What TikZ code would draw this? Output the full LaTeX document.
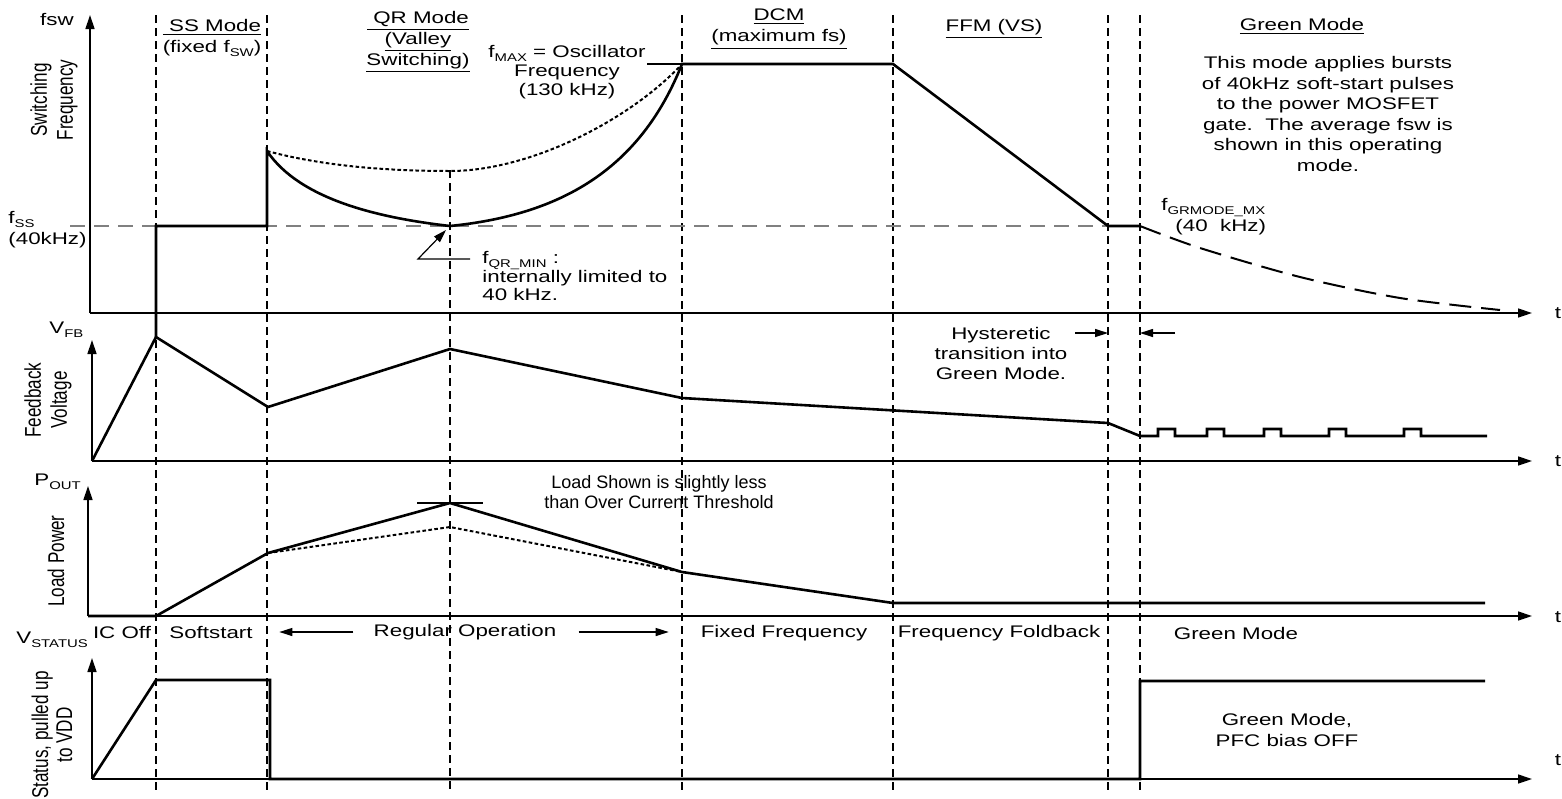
\documentclass[tikz,border=0pt]{standalone}
\usepackage{fontspec}
\setmainfont{Liberation Sans}[FakeStretch=1.33]
\newfontfamily\sidefont{Liberation Sans}[FakeStretch=0.75]
\newfontfamily\plainfont{Liberation Sans}
\usetikzlibrary{arrows.meta}
\newcommand{\subtxt}[1]{\raisebox{-0.45ex}{\fontsize{5.6}{5.6}\selectfont #1}}

\begin{document}
\begin{tikzpicture}[x=0.5pt, y=-0.5pt,
    every node/.style={font=\fontsize{8.4}{10.5}\selectfont, inner sep=0pt},
    axis/.style={-{Triangle[length=7pt,width=4.5pt]}, line width=0.7pt},
    trace/.style={line width=1.3pt},
    modeline/.style={line width=0.8pt, dash pattern=on 4pt off 2.5pt},
    levelline/.style={line width=0.7pt, gray, dash pattern=on 7.5pt off 4.5pt},
    estimate/.style={line width=1pt, dash pattern=on 1.8pt off 1.2pt},
    decay/.style={line width=1pt, dash pattern=on 11pt off 5pt},
    pointer/.style={-{Triangle[length=6.5pt,width=4pt]}, line width=0.6pt},
    sidelabel/.style={font=\sidefont\fontsize{11.4}{13}\selectfont, rotate=90, align=center},
]
\useasboundingbox (0,0) rectangle (1562,798);

% Mode boundaries
\foreach \xm in {156,267,682,893,1108,1140}
    \draw[modeline] (\xm,15) -- (\xm,790);
\draw[modeline] (450,170) -- (450,790);

% Soft-start level
\draw[levelline] (70,226) -- (1108,226);

% Axes
\draw[axis] (90,313) -- (90,15);
\draw[axis] (90,313) -- (1532,313);
\draw[axis] (92,461) -- (92,340);
\draw[axis] (92,461) -- (1532,461);
\draw[axis] (88,616) -- (88,486);
\draw[axis] (88,616) -- (1532,616);
\draw[axis] (92,779) -- (92,658);
\draw[axis] (92,779) -- (1532,779);

% Switching frequency
\draw[trace] (90,313) -- (156,313);
\draw[trace] (156,337) -- (156,226) -- (267,226) -- (267,151)
    .. controls (300,200) and (380,218) .. (450,226)
    .. controls (560,215) and (640,170) .. (682,64)
    -- (893,64) -- (1108,226) -- (1140,226);
\draw[estimate] (267,151) .. controls (330,168) and (400,171) .. (450,171)
    .. controls (530,171) and (630,120) .. (682,64);
\draw[decay] plot[smooth] coordinates {(1140,226) (1200,248) (1300,277) (1400,298) (1500,310)};
\draw[line width=0.6pt] (647,64) -- (682,64);
\draw[pointer] (470,259) -- (418,259) -- (446,230);

\node (fswlbl) at (57,20) {fsw};
\node[sidelabel] (switchlbl) at (54,100) {Switching\\Frequency};
\node[anchor=west, align=left] (fsslbl) at (8,230) {f\subtxt{SS}\\(40kHz)};
\node[align=center] (ssmode) at (212,38) {\underline{\ SS Mode}\\(fixed f\subtxt{SW})};
\node[align=center] (qrmode) at (418,42) {\underline{\ QR Mode}\\\underline{(Valley}\\\underline{Switching)}};
\node[align=center] (dcmmode) at (779,29) {\underline{DCM}\\\underline{(maximum fs)}};
\node (ffmmode) at (994,29) {\underline{FFM (VS)}};
\node (greenmode) at (1302,26) {\underline{Green Mode}};
\node[align=center, font=\fontsize{8.4}{10.3}\selectfont] (greennote) at (1328,114)
    {This mode applies bursts\\of 40kHz soft-start pulses\\to the power MOSFET\\gate.\ \ The average fsw is\\shown in this operating\\mode.};
\node[align=center, font=\fontsize{8.4}{9.5}\selectfont] (fmaxnote) at (567,72)
    {f\subtxt{MAX} = Oscillator\\Frequency\\(130 kHz)};
\node[anchor=west, align=left, font=\fontsize{8.4}{9.2}\selectfont] (fqrnote) at (482,276)
    {f\subtxt{QR\_MIN} :\\internally limited to\\40 kHz.};
\node[anchor=west, align=left] (fgrnote) at (1161,217) {f\subtxt{GRMODE\_MX}\\\hspace{7pt}(40~~kHz)};
\node (tfsw) at (1558,313) {t};

% Feedback voltage
\draw[trace] (92,461) -- (156,337) -- (268,407) -- (450,349) -- (682,398) -- (1108,423) -- (1140,436)
    \foreach \px in {1158,1207,1264,1329,1404} { -- (\px,436) -- (\px,429) -- ++(17,0) -- ++(0,7) } -- (1487,436);
\draw[pointer] (1075,333) -- (1108,333);
\draw[pointer] (1175,333) -- (1140,333);

\node[anchor=west] (vfblbl) at (49,330) {V\subtxt{FB}};
\node[sidelabel] (fblbl) at (48,400) {Feedback\\Voltage};
\node[align=center, font=\fontsize{8.4}{10}\selectfont] (hystnote) at (1001,353) {Hysteretic\\transition into\\Green Mode.};
\node (tvfb) at (1558,461) {t};

% Load power
\draw[trace] (88,616) -- (156,616) -- (268,553) -- (450,503) -- (682,572) -- (893,603) -- (1485,603);
\draw[estimate] (268,553) -- (450,527) -- (682,572);
\draw[line width=0.6pt] (417,503) -- (483,503);

\node[anchor=west] (poutlbl) at (34,482) {P\subtxt{OUT}};
\node[sidelabel] (loadlbl) at (56,561) {Load Power};
\node[align=center, font=\plainfont\fontsize{9}{9.6}\selectfont] (loadnote) at (659,492) {Load Shown is slightly less\\than Over Current Threshold};
\node (tpout) at (1558,617) {t};

% Operating phases
\node (icoff) at (122,632) {IC Off};
\node (softstart) at (211,632) {Softstart};
\node (regop) at (465,632) {Regular Operation};
\node (fixedf) at (784,633) {Fixed Frequency};
\node (foldback) at (999,633) {Frequency Foldback};
\node (greenlbl) at (1236,633) {Green Mode};
\draw[pointer] ([xshift=-10pt]regop.west) -- ++(-74,0);
\draw[pointer] ([xshift=11pt]regop.east) -- ++(90,0);

% Status output
\draw[trace] (92,779) -- (156,680) -- (270,680) -- (270,779) -- (1140,779) -- (1140,681) -- (1485,681);

\node[anchor=west] (vstatlbl) at (16,640) {V\subtxt{STATUS}};
\node[sidelabel, font=\sidefont\fontsize{11.4}{12}\selectfont] (statlbl) at (52,735) {Status, pulled up\\to VDD};
\node[align=center] (greenbias) at (1287,730) {Green Mode,\\PFC bias OFF};
\node (tstat) at (1558,760) {t};

\end{tikzpicture}
\end{document}
